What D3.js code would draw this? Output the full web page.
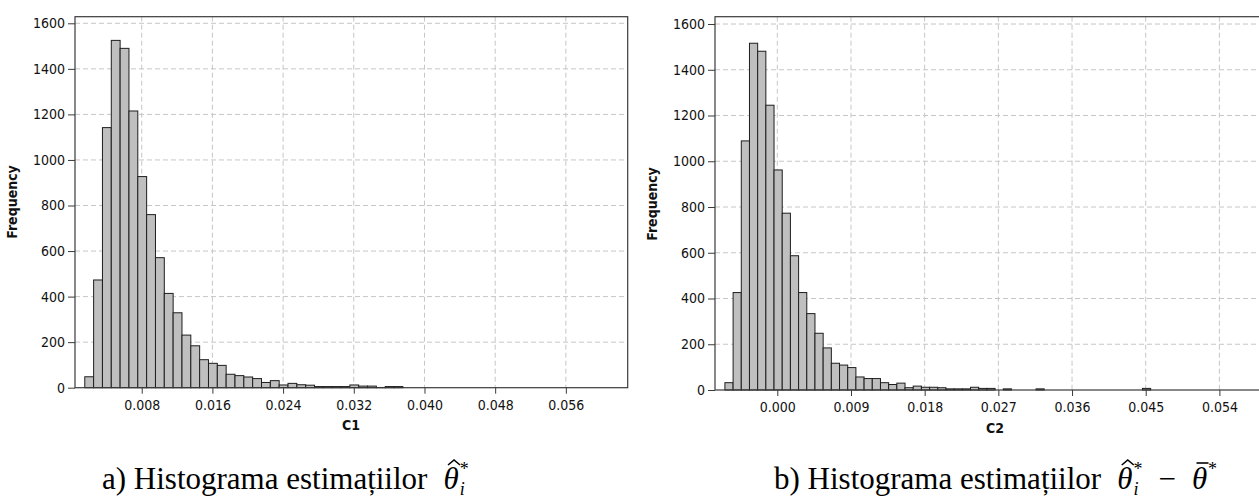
<!DOCTYPE html>
<html>
<head>
<meta charset="utf-8">
<script src="https://cdn.jsdelivr.net/npm/d3@7"></script>
<style>
  html, body { margin: 0; padding: 0; background: #fff; }
  svg { display: block; }
</style>
</head>
<body>
<svg id="chart" width="1259" height="499"></svg>
<script>
// ---------- data ----------
const binWidth = 0.001;
// C1 histogram: bins start at 0.0015 (centers 0.002, 0.003, ...)
const c1BinStart = 0.0015;
const c1Counts = [48, 473, 1142, 1525, 1490, 1215, 927, 760, 571, 414, 329, 231, 184, 123, 107, 98,
                  59, 53, 47, 40, 23, 31, 12, 19, 13, 11, 5, 5, 5, 5, 12, 7, 7, 1, 5, 5];
const c1Ticks = [0.008, 0.016, 0.024, 0.032, 0.040, 0.048, 0.056];
const c1Domain = [0.00045, 0.0630];

// C2 histogram: bins start at -0.00646
const c2BinStart = -0.00646;
const c2Counts = [32, 426, 1089, 1516, 1481, 1245, 962, 773, 587, 426, 334, 248, 184, 117, 109, 98,
                  57, 50, 50, 32, 24, 30, 10, 17, 12, 12, 10, 5, 5, 5, 12, 7, 7, 0, 5, 0, 0, 0, 5,
                  0, 0, 0, 0, 0, 0, 0, 0, 0, 0, 0, 0, 7];
const c2Ticks = [0.000, 0.009, 0.018, 0.027, 0.036, 0.045, 0.054];
const c2Domain = [-0.00761, 0.0599];

const yTicks = [0, 200, 400, 600, 800, 1000, 1200, 1400, 1600];

const captionA = "a) Histograma estimațiilor";
const captionB = "b) Histograma estimațiilor";

const svg = d3.select("#chart");

function drawPanel(opt) {
  const g = svg.append("g");
  const x = d3.scaleLinear().domain(opt.domain).range([opt.left, opt.right]);
  const y = d3.scaleLinear().domain([0, opt.yMax]).range([opt.bottom, opt.top]);

  const clipId = "clip" + opt.name;
  svg.append("clipPath").attr("id", clipId)
    .append("rect").attr("x", opt.left).attr("y", opt.top)
    .attr("width", opt.right - opt.left).attr("height", opt.bottom - opt.top);

  // gridlines
  const grid = g.append("g").attr("clip-path", `url(#${clipId})`);
  grid.selectAll("line.h").data(yTicks.filter(d => d > 0)).join("line")
    .attr("x1", opt.left).attr("x2", opt.right)
    .attr("y1", d => y(d)).attr("y2", d => y(d))
    .attr("stroke", "#c6c6c6").attr("stroke-width", 1).attr("stroke-dasharray", "5,3");
  grid.selectAll("line.v").data(opt.ticks).join("line")
    .attr("x1", d => x(d)).attr("x2", d => x(d))
    .attr("y1", opt.top).attr("y2", opt.bottom)
    .attr("stroke", "#c6c6c6").attr("stroke-width", 1).attr("stroke-dasharray", "5,3");

  // bars
  const bins = opt.counts.map((c, i) => ({ x0: opt.binStart + i * binWidth, x1: opt.binStart + (i + 1) * binWidth, c }))
    .filter(d => d.c > 0);
  g.append("g").selectAll("rect").data(bins).join("rect")
    .attr("x", d => x(d.x0) + 0.5)
    .attr("width", d => x(d.x1) - x(d.x0))
    .attr("y", d => y(d.c))
    .attr("height", d => y(0) - y(d.c))
    .attr("fill", "#bfbfbf").attr("stroke", "#1e1e1e").attr("stroke-width", 1);

  // frame
  g.append("rect").attr("x", opt.left).attr("y", opt.top)
    .attr("width", opt.right - opt.left).attr("height", opt.bottom - opt.top)
    .attr("fill", "none").attr("stroke", "#3a3a3a").attr("stroke-width", 1.2);

  const font = "'DejaVu Sans Condensed', 'DejaVu Sans', sans-serif";

  const xa = g.append("g").attr("transform", `translate(0,${opt.bottom})`)
    .call(d3.axisBottom(x).tickValues(opt.ticks).tickFormat(d3.format(".3f")).tickSize(6).tickPadding(6));
  xa.select(".domain").remove();
  xa.selectAll("line").attr("stroke", "#3a3a3a");
  xa.selectAll("text").attr("font-family", font).attr("font-size", 14).attr("fill", "#111");

  const ya = g.append("g").attr("transform", `translate(${opt.left},0)`)
    .call(d3.axisLeft(y).tickValues(yTicks).tickFormat(d3.format("d")).tickSize(7).tickPadding(3));
  ya.select(".domain").remove();
  ya.selectAll("line").attr("stroke", "#3a3a3a");
  ya.selectAll("text").attr("font-family", font).attr("font-size", 14).attr("fill", "#111");

  g.append("text").attr("x", opt.xLabelX).attr("y", opt.xLabelY)
    .attr("text-anchor", "middle").attr("font-family", font).attr("font-weight", "bold")
    .attr("font-size", 14).attr("fill", "#111").text(opt.xLabel);
  g.append("text").attr("transform", `translate(${opt.left - 58},${opt.yLabelY}) rotate(-90)`)
    .attr("text-anchor", "middle").attr("font-family", font).attr("font-weight", "bold")
    .attr("font-size", 14).attr("fill", "#111").text("Frequency");
}

drawPanel({ name: "a", counts: c1Counts, binStart: c1BinStart, domain: c1Domain, ticks: c1Ticks,
  left: 75, right: 627.7, top: 16.7, bottom: 387.7, yMax: 1629,
  xLabel: "C1", xLabelX: 351, xLabelY: 430, yLabelY: 202 });
drawPanel({ name: "b", counts: c2Counts, binStart: c2BinStart, domain: c2Domain, ticks: c2Ticks,
  left: 715, right: 1267.7, top: 16.7, bottom: 390, yMax: 1632,
  xLabel: "C2", xLabelX: 995, xLabelY: 433, yLabelY: 204 });

// ---------- captions (math set piece by piece) ----------
const serif = "'Liberation Serif', 'Times New Roman', serif";
const capSize = 31, scriptSize = 18;
function makeCaption(x0, base, text, withBar) {
  const g = svg.append("g");
  let cx = x0;
  function put(t, o = {}) {
    const el = g.append("text").attr("x", cx + (o.dx || 0)).attr("y", base + (o.dy || 0))
      .attr("font-family", serif).attr("font-size", o.size || capSize)
      .attr("font-style", o.italic ? "italic" : "normal").attr("fill", "#000").text(t);
    return { x: cx + (o.dx || 0), w: el.node().getComputedTextLength() };
  }
  function scripts(sup, sub) {
    const a = put(sup, { size: scriptSize, dy: -14 });
    const b = sub ? put(sub, { size: scriptSize, dy: 6, italic: true }) : { w: 0 };
    cx += Math.max(a.w, b.w);
  }
  function theta(mark) {
    const th = put("θ", { italic: true });
    const mid = th.x + th.w / 2 + 3;
    const top = base - 24;
    if (mark === "hat") {
      g.append("path").attr("d", `M${mid - 6},${top} L${mid},${top - 5} L${mid + 6},${top}`)
        .attr("fill", "none").attr("stroke", "#000").attr("stroke-width", 1.6);
    } else {
      g.append("line").attr("x1", mid - 6).attr("x2", mid + 6)
        .attr("y1", top - 2).attr("y2", top - 2).attr("stroke", "#000").attr("stroke-width", 1.6);
    }
    cx += th.w + 1;
  }
  const main = put(text);
  cx += main.w + 16;
  theta("hat");
  scripts("*", "i");
  if (withBar) {
    cx += 16;
    const m = put("−");
    cx += m.w + 16;
    theta("bar");
    scripts("*", null);
  }
}
makeCaption(102, 489, captionA, false);
makeCaption(774, 489, captionB, true);
</script>
</body>
</html>
